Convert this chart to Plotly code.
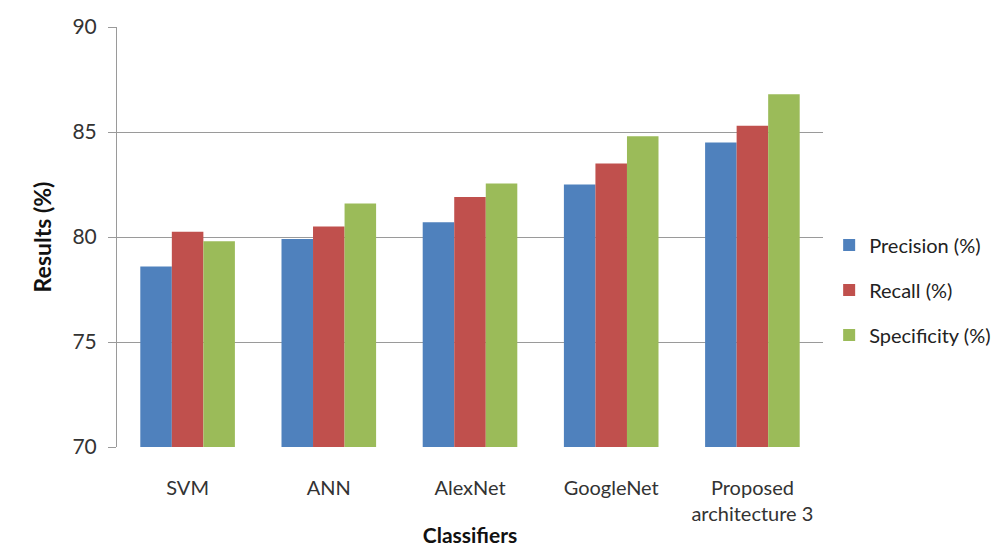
import plotly.graph_objects as go

# Classifier comparison data
classifiers = ["SVM", "ANN", "AlexNet", "GoogleNet", "Proposed<br>architecture 3"]
precision = [78.6, 79.9, 80.7, 82.5, 84.5]
recall = [80.25, 80.5, 81.9, 83.5, 85.3]
specificity = [79.8, 81.6, 82.55, 84.8, 86.8]
y_ticks = [70, 75, 80, 85, 90]

series = [
    ("Precision (%)", precision, "#4F81BD"),
    ("Recall (%)", recall, "#C0504D"),
    ("Specificity (%)", specificity, "#9BBB59"),
]

FONT = "Lato, 'Open Sans', sans-serif"

fig = go.Figure()
for name, vals, color in series:
    fig.add_trace(go.Bar(
        x=classifiers, y=vals, name=name, legendgroup=name,
        marker=dict(color=color, line=dict(width=0)),
    ))

fig.update_layout(
    width=993, height=547,
    margin=dict(l=117, r=170, t=27, b=100, autoexpand=False),
    paper_bgcolor="white", plot_bgcolor="white",
    barmode="group", bargap=0.33, bargroupgap=0,
    font=dict(family=FONT, color="#222222"),
    legend=dict(
        xref="container", yref="container",
        x=0.835, y=0.47, xanchor="left", yanchor="middle",
        font=dict(size=20, family=FONT, color="#222222"),
        tracegroupgap=16, itemwidth=30,
    ),
    xaxis=dict(
        showline=False, ticks="", showgrid=False, automargin=False,
        tickfont=dict(size=20, family=FONT, color="#333333"),
        ticklabelstandoff=27,
        title=dict(text="<b>Classifiers</b>", font=dict(size=21, family=FONT, color="#111111"), standoff=8),
    ),
    yaxis=dict(
        range=[70, 90], tickvals=y_ticks, automargin=False,
        showgrid=True, gridcolor="#9a9a9a", gridwidth=1,
        showline=True, linecolor="#9a9a9a", linewidth=1,
        ticks="outside", ticklen=8, tickcolor="#9a9a9a",
        ticklabelstandoff=7,
        tickfont=dict(size=21, family=FONT, color="#333333"),
        zeroline=False,
        title=dict(text="<b>Results (%)</b>", font=dict(size=23, family=FONT, color="#111111"), standoff=14),
    ),
)

fig.write_html("out.html")
